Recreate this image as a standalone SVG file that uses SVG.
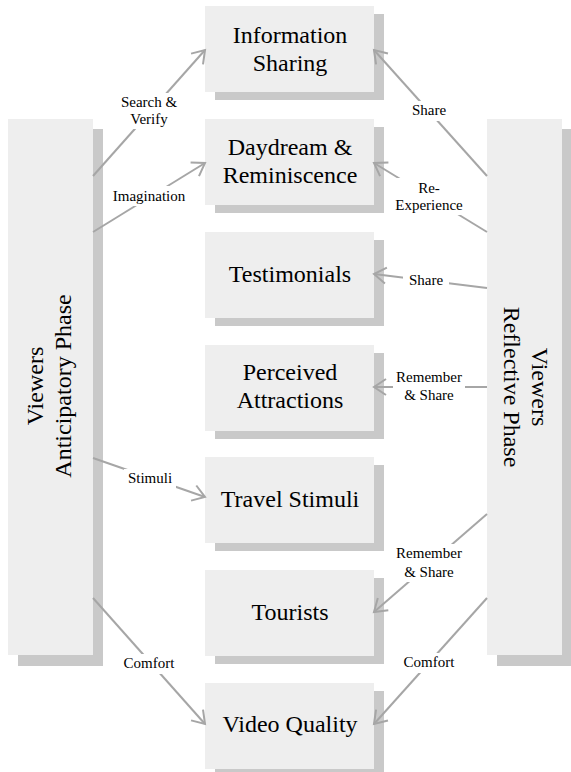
<svg xmlns="http://www.w3.org/2000/svg" width="571" height="772" viewBox="0 0 571 772">
<style>
.box{fill:#eeeeee}
.sh{fill:#c9c9c9}
.t{font-family:"Liberation Serif","Times New Roman",serif;font-size:24px;fill:#000;text-anchor:middle}
.l{font-family:"Liberation Serif","Times New Roman",serif;font-size:15px;fill:#000;text-anchor:middle}
.c{stroke:#a6a6a6;stroke-width:2;fill:none}
.bg{fill:#ffffff}
</style>
<defs>
<marker id="ah" markerUnits="userSpaceOnUse" markerWidth="30" markerHeight="30" viewBox="-15 -15 30 30" refX="0" refY="0" orient="auto" overflow="visible">
<path d="M-12,-8 L0,0 L-12,8" fill="none" stroke="#a6a6a6" stroke-width="2"/>
</marker>
</defs>
<rect width="571" height="772" fill="#ffffff"/>

<g id="anticipatory">
<rect class="sh" x="18" y="129" width="85" height="537"/>
<rect class="box" x="8" y="119" width="85" height="536"/>
<text class="t" transform="translate(50,386) rotate(-90)"><tspan x="0" y="-7">Viewers</tspan><tspan x="0" y="21">Anticipatory Phase</tspan></text>
</g>
<g id="reflective">
<rect class="sh" x="497" y="129" width="75" height="537"/>
<rect class="box" x="487" y="119" width="75" height="536"/>
<text class="t" transform="translate(525,387) rotate(90)"><tspan x="0" y="-7">Viewers</tspan><tspan x="0" y="21">Reflective Phase</tspan></text>
</g>

<g id="info">
<rect class="sh" x="215" y="14" width="169" height="86"/>
<rect class="box" x="205" y="6" width="169" height="86"/>
<text class="t"><tspan x="290" y="43">Information</tspan><tspan x="290" y="71">Sharing</tspan></text>
</g>
<g id="daydream">
<rect class="sh" x="215" y="127" width="169" height="86"/>
<rect class="box" x="205" y="119" width="169" height="86"/>
<text class="t"><tspan x="290" y="155">Daydream &amp;</tspan><tspan x="290" y="183">Reminiscence</tspan></text>
</g>
<g id="testimonials">
<rect class="sh" x="215" y="240" width="169" height="86"/>
<rect class="box" x="205" y="232" width="169" height="86"/>
<text class="t" x="290" y="282">Testimonials</text>
</g>
<g id="perceived">
<rect class="sh" x="215" y="353" width="169" height="86"/>
<rect class="box" x="205" y="345" width="169" height="86"/>
<text class="t"><tspan x="290" y="380">Perceived</tspan><tspan x="290" y="408">Attractions</tspan></text>
</g>
<g id="stimuli">
<rect class="sh" x="215" y="465" width="169" height="86"/>
<rect class="box" x="205" y="457" width="169" height="86"/>
<text class="t" x="290" y="507">Travel Stimuli</text>
</g>
<g id="tourists">
<rect class="sh" x="215" y="578" width="169" height="86"/>
<rect class="box" x="205" y="570" width="169" height="86"/>
<text class="t" x="290" y="620">Tourists</text>
</g>
<g id="video">
<rect class="sh" x="215" y="691" width="169" height="86"/>
<rect class="box" x="205" y="683" width="169" height="86"/>
<text class="t" x="290" y="732">Video Quality</text>
</g>

<g id="connectors">
<line class="c" x1="93" y1="176" x2="205" y2="50" marker-end="url(#ah)"/>
<line class="c" x1="93" y1="232" x2="205" y2="163" marker-end="url(#ah)"/>
<line class="c" x1="93" y1="458" x2="205" y2="497" marker-end="url(#ah)"/>
<line class="c" x1="93" y1="598" x2="205" y2="724" marker-end="url(#ah)"/>
<line class="c" x1="487" y1="176" x2="374" y2="50" marker-end="url(#ah)"/>
<line class="c" x1="487" y1="232" x2="374" y2="163" marker-end="url(#ah)"/>
<line class="c" x1="487" y1="288" x2="374" y2="274" marker-end="url(#ah)"/>
<line class="c" x1="487" y1="387" x2="374" y2="387" marker-end="url(#ah)"/>
<line class="c" x1="487" y1="514" x2="374" y2="612" marker-end="url(#ah)"/>
<line class="c" x1="487" y1="598" x2="374" y2="724" marker-end="url(#ah)"/>

<rect class="bg" x="117" y="93" width="64" height="36"/>
<text class="l"><tspan x="149" y="107">Search &amp;</tspan><tspan x="149" y="124">Verify</tspan></text>
<rect class="bg" x="109" y="186" width="82" height="20"/>
<text class="l" x="149" y="201">Imagination</text>
<rect class="bg" x="124" y="469" width="52" height="20"/>
<text class="l" x="150" y="483">Stimuli</text>
<rect class="bg" x="120" y="654" width="58" height="20"/>
<text class="l" x="149" y="668">Comfort</text>

<rect class="bg" x="405" y="101" width="48" height="20"/>
<text class="l" x="429" y="115">Share</text>
<rect class="bg" x="395" y="178" width="68" height="37"/>
<text class="l"><tspan x="429" y="193">Re-</tspan><tspan x="429" y="210">Experience</tspan></text>
<rect class="bg" x="403" y="271" width="46" height="20"/>
<text class="l" x="426" y="285">Share</text>
<rect class="bg" x="393" y="368" width="72" height="38"/>
<text class="l"><tspan x="429" y="382">Remember</tspan><tspan x="429" y="400">&amp; Share</tspan></text>
<rect class="bg" x="393" y="544" width="72" height="38"/>
<text class="l"><tspan x="429" y="558">Remember</tspan><tspan x="429" y="577">&amp; Share</tspan></text>
<rect class="bg" x="400" y="653" width="58" height="20"/>
<text class="l" x="429" y="667">Comfort</text>
</g>
</svg>
